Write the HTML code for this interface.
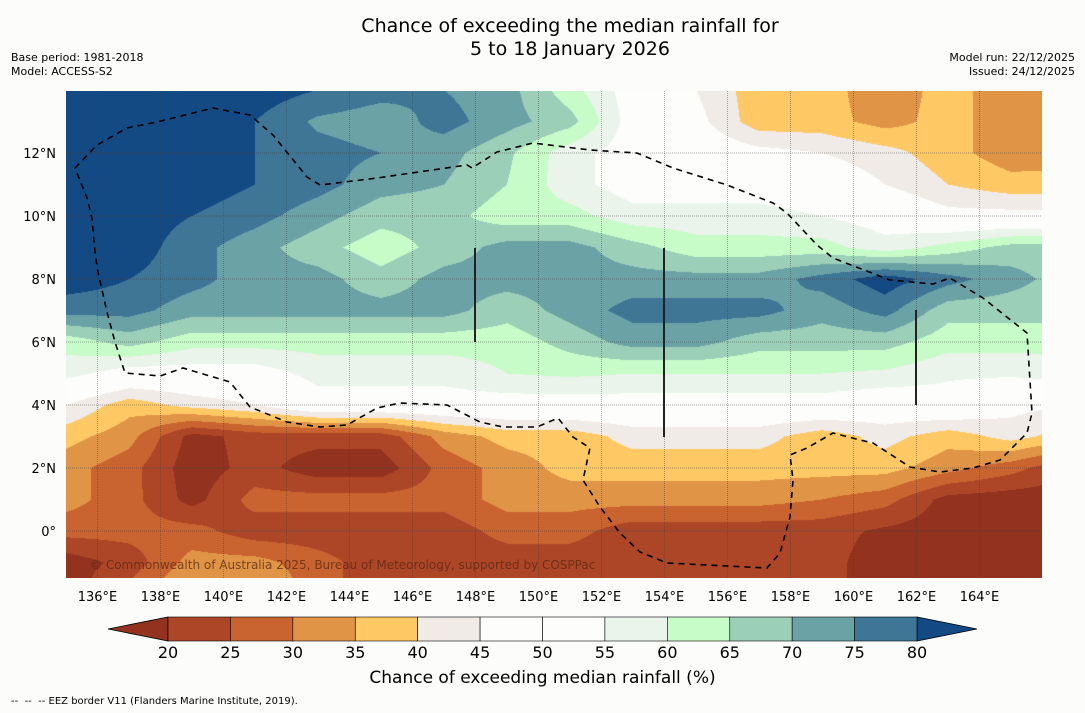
<!DOCTYPE html>
<html><head><meta charset="utf-8"><style>
body{margin:0;background:#fcfdfb;font-family:"DejaVu Sans","Liberation Sans",sans-serif;}
#wrap{position:relative;width:1085px;height:713px;overflow:hidden;background:#fcfdfb;}
.t{position:absolute;color:#000;white-space:nowrap;}
</style></head><body>
<div id="wrap">
<div class="t" style="left:0;width:1140px;text-align:center;top:15px;font-size:19px;line-height:23px;">Chance of exceeding the median rainfall for<br>5 to 18 January 2026</div>
<div class="t" style="left:11px;top:51px;font-size:11px;line-height:14px;">Base period: 1981-2018<br>Model: ACCESS-S2</div>
<div class="t" style="right:10px;top:51px;font-size:11px;line-height:14px;text-align:right;">Model run: 22/12/2025<br>Issued: 24/12/2025</div>
<canvas id="map" width="976" height="487" style="position:absolute;left:66px;top:91px;"></canvas>
<svg id="ov" width="1085" height="713" style="position:absolute;left:0;top:0;"></svg>
<div class="t" style="left:90px;top:558px;font-size:12px;color:rgba(90,40,20,0.75);">© Commonwealth of Australia 2025, Bureau of Meteorology, supported by COSPPac</div>
<div class="t" style="left:0;width:1085px;text-align:center;top:668px;font-size:17px;">Chance of exceeding median rainfall (%)</div>
<div class="t" style="left:11px;top:696px;font-size:10px;">-- &nbsp;-- &nbsp;-- EEZ border V11 (Flanders Marine Institute, 2019).</div>
</div>
<script>
const lonNodes=[135,137,139,141,143,145,147,149,151,153,155,157,159,161,163,165,167];
const latNodes=[14,13,12,11,10,9,8,7,6,5,4,3,2,1,0,-1,-2];
const r14=[83,83,83,83,80,77,75,72,62,52,45,37,37,32,37,32,32];
const r13=[83,83,83,80,74,72,77,72,67,52,47,37,37,33,37,32,32];
const r12=[83,83,83,80,77,75,72,66,57,52,50,47,45,42,37,32,33];
const r11=[83,83,83,80,77,72,70,65,57,52,52,52,50,45,40,37,37];
const r10=[83,83,80,77,72,67,67,62,62,57,57,57,55,52,47,47,47];
const r9=[83,83,77,72,67,62,67,72,72,67,62,62,62,57,62,67,67];
const r8=[83,80,77,72,72,67,72,72,72,72,72,72,77,83,77,72,67];
const r7=[77,77,72,72,72,72,72,67,72,77,77,77,72,77,67,67,67];
const r6=[62,67,62,62,62,62,62,62,67,72,72,67,67,67,62,62,62];
const r5=[57,52,52,52,57,57,57,60,61,60,60,60,60,59,56,56,58];
const r4=[45,37,42,45,52,52,52,52,52,52,52,52,52,50,52,47,45];
const r3=[37,32,18,22,22,22,32,37,37,42,42,42,37,42,37,42,37];
const r2=[32,27,17,22,17,17,27,32,37,37,37,37,37,37,32,27,20];
const r1=[32,27,18,27,27,27,27,32,32,32,32,32,30,27,18,17,17];
const r0=[27,27,27,22,22,22,22,27,27,22,22,22,22,19,17,17,17];
const rm1=[17,22,32,32,27,22,22,22,22,22,22,22,22,17,17,17,17];
const rm2=[17,27,37,37,27,22,27,22,22,20,22,22,22,17,17,17,17];
const gridRows=[r14,r13,r12,r11,r10,r9,r8,r7,r6,r5,r4,r3,r2,r1,r0,rm1,rm2];
const binEdges=[20,25,30,35,40,45,50,55,60,65,70,75,80];
const binColors=["#93321e","#ad4627","#c96330","#e09446","#fec964","#f0ebe6","#fdfdfb","#fdfdfb","#eaf4ea","#c7fbc8","#9bcfb8","#6ba2a6","#3f7696","#134a83"];
const lonTicks=[136,138,140,142,144,146,148,150,152,154,156,158,160,162,164];
const latTicks=[12,10,8,6,4,2,0];
const X0=66,Y0=91,W=976,H=487,PPD=31.5;
function xOf(lon){return 66+(lon-135)*PPD;}
function yOf(lat){return 531-lat*PPD;}
function binOf(v){let k=0;while(k<binEdges.length&&v>=binEdges[k])k++;return k;}
function hex(c){return [parseInt(c.substr(1,2),16),parseInt(c.substr(3,2),16),parseInt(c.substr(5,2),16)];}
const rgb=binColors.map(hex);
const cv=document.getElementById('map');const ctx=cv.getContext('2d');
const img=ctx.createImageData(W,H);
const nI=lonNodes.length,nJ=latNodes.length;
for(let py=0;py<H;py++){const lat=(531-(Y0+py+0.5))/PPD;let fj=(latNodes[0]-lat)/(latNodes[0]-latNodes[1]);
 fj=Math.max(0,Math.min(nJ-1.001,fj));const j=Math.floor(fj),tj=fj-j;
 for(let px=0;px<W;px++){const lon=135+(px+0.5)/PPD;let fi=(lon-lonNodes[0])/(lonNodes[1]-lonNodes[0]);
  fi=Math.max(0,Math.min(nI-1.001,fi));const i=Math.floor(fi),ti=fi-i;
  const a=gridRows[j][i],b=gridRows[j][i+1],c=gridRows[j+1][i],d=gridRows[j+1][i+1];
  const v=(a*(1-ti)+b*ti)*(1-tj)+(c*(1-ti)+d*ti)*tj;
  const col=rgb[binOf(v)];const o=(py*W+px)*4;img.data[o]=col[0];img.data[o+1]=col[1];img.data[o+2]=col[2];img.data[o+3]=255;}}
ctx.putImageData(img,0,0);
const NS='http://www.w3.org/2000/svg';const svg=document.getElementById('ov');
function mk(t,at){const e=document.createElementNS(NS,t);for(const k in at)e.setAttribute(k,at[k]);svg.appendChild(e);return e;}
lonTicks.forEach(l=>{const x=xOf(l);
 const g=mk('line',{x1:x,y1:Y0,x2:x,y2:Y0+H,stroke:'rgba(60,60,60,0.45)','stroke-width':1,'stroke-dasharray':'1,1'});
 
 
 const t=mk('text',{x:x,y:601,'text-anchor':'middle','font-size':13,'font-family':'DejaVu Sans, sans-serif'});t.textContent=l+'°E';
 
 });
latTicks.forEach(l=>{const y=yOf(l);
 const g=mk('line',{x1:X0,y1:y,x2:X0+W,y2:y,stroke:'rgba(60,60,60,0.45)','stroke-width':1,'stroke-dasharray':'1,1'});
 
 
 const t=mk('text',{x:56,y:y+5,'text-anchor':'end','font-size':13,'font-family':'DejaVu Sans, sans-serif'});t.textContent=l===0?'0°':l+'°N';
 
 });
const eez="M75,168 L97,145 L127,128 L157,122 L213,108 L250,115 L273,135 L307,177 L320,185 L377,178 L467,165 L472,168 L497,152 L533,143 L590,150 L637,153 L673,168 L727,185 L773,203 L787,213 L817,245 L833,258 L890,280 L933,284 L950,278 L983,298 L1027,333 L1032,413 L1027,433 L1000,460 L973,468 L940,472 L910,467 L873,443 L860,440 L833,433 L807,448 L790,455 L793,480 L790,517 L780,553 L767,568 L667,563 L640,552 L620,533 L600,507 L583,480 L590,448 L573,437 L558,418 L537,427 L503,427 L480,422 L447,405 L400,403 L377,408 L347,425 L320,427 L287,422 L250,407 L230,382 L183,368 L160,376 L125,373 L115,342 L107,312 L98,272 L95,252 L92,218 L87,198 Z";
const ep=mk('path',{d:eez,fill:'none',stroke:'#000','stroke-width':1.6,'stroke-dasharray':'6,5'});


[[475,248,342],[664,248,437],[916,310,405]].forEach(s=>{const l=mk('line',{x1:s[0],y1:s[1],x2:s[0],y2:s[2],stroke:'#222','stroke-width':2});
 
 });
const cbL=168,cbR=917,cbT=617,cbB=641,nb=binEdges.length-1,bw=(cbR-cbL)/nb;
const lt=mk('polygon',{points:`108,${(cbT+cbB)/2} ${cbL},${cbT} ${cbL},${cbB}`,fill:binColors[0],stroke:'#000','stroke-width':0.8});


const rt=mk('polygon',{points:`977,${(cbT+cbB)/2} ${cbR},${cbT} ${cbR},${cbB}`,fill:binColors[binColors.length-1],stroke:'#000','stroke-width':0.8});


for(let k=0;k<nb;k++){const r=mk('rect',{x:cbL+k*bw,y:cbT,width:bw,height:cbB-cbT,fill:binColors[k+1],stroke:'#000','stroke-width':0.6});
 
 }
binEdges.forEach((e,k)=>{const t=mk('text',{x:cbL+k*bw,y:658,'text-anchor':'middle','font-size':16,'font-family':'DejaVu Sans, sans-serif'});t.textContent=e;
 
 });
</script>
</body></html>
